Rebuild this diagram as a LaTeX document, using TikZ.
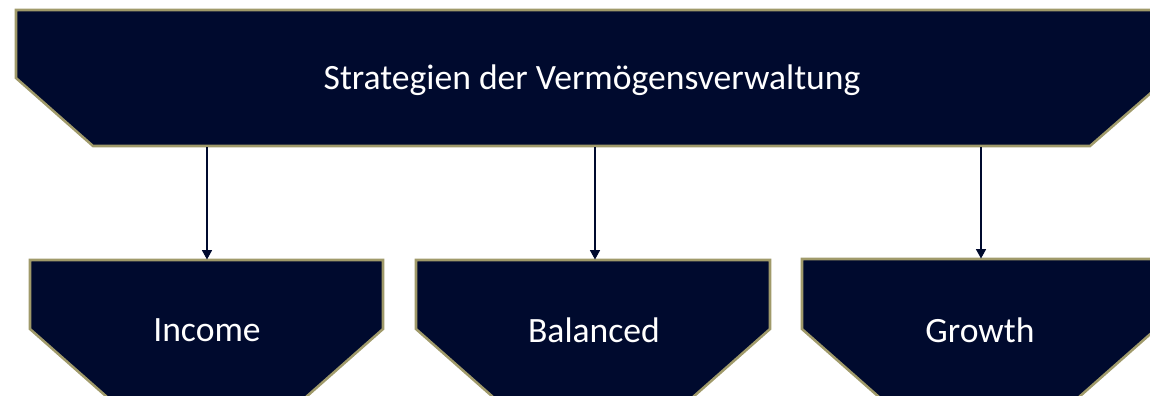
\documentclass[tikz,border=0pt]{standalone}
\usepackage{fontspec}
\setmainfont{Carlito}
\usetikzlibrary{arrows.meta}

\definecolor{navy}{RGB}{0,10,46}
\definecolor{khaki}{RGB}{160,154,106}

\tikzset{
  panel/.style={draw=khaki, line width=1.9pt, fill=navy},
  label/.style={text=white, inner sep=0.75pt, font=\fontsize{26.7}{30}\selectfont},
  link/.style={draw=navy, line width=0.9pt, -{Triangle[width=7.5pt,length=7pt]}}
}

\begin{document}
\begin{tikzpicture}[x=0.75pt,y=0.75pt,yscale=-1,xscale=1]

\useasboundingbox (0,0) rectangle (1150,396);
\clip (0,0) rectangle (1150,396);

% top panel
\draw [panel] (16,10) -- (1168,10) -- (1168,78) -- (1090,146) -- (93,146) -- (16,78) -- cycle ;

% three lower panels
\draw [panel] (30,260) -- (383,260) -- (383,329) -- (280,420) -- (133,420) -- (30,329) -- cycle ;
\draw [panel] (416,260) -- (770,260) -- (770,329) -- (667,420) -- (519,420) -- (416,329) -- cycle ;
\draw [panel] (802,259) -- (1156,259) -- (1156,329) -- (1053,420) -- (905,420) -- (802,329) -- cycle ;

\node (strat) at (592,80) [label] {Strategien der Vermögensverwaltung};
\node (income) at (207,330) [label] {Income};
\node (balanced) at (594,330) [label] {Balanced};
\node (growth) at (980,330) [label] {Growth};

\coordinate (s1) at (207,147);
\coordinate (s2) at (595,147);
\coordinate (s3) at (981,147);
\coordinate (t1) at (207,259.5);
\coordinate (t2) at (595,259.5);
\coordinate (t3) at (981,258.5);

\draw [link] (s1) -- (t1);
\draw [link] (s2) -- (t2);
\draw [link] (s3) -- (t3);

\end{tikzpicture}
\end{document}
